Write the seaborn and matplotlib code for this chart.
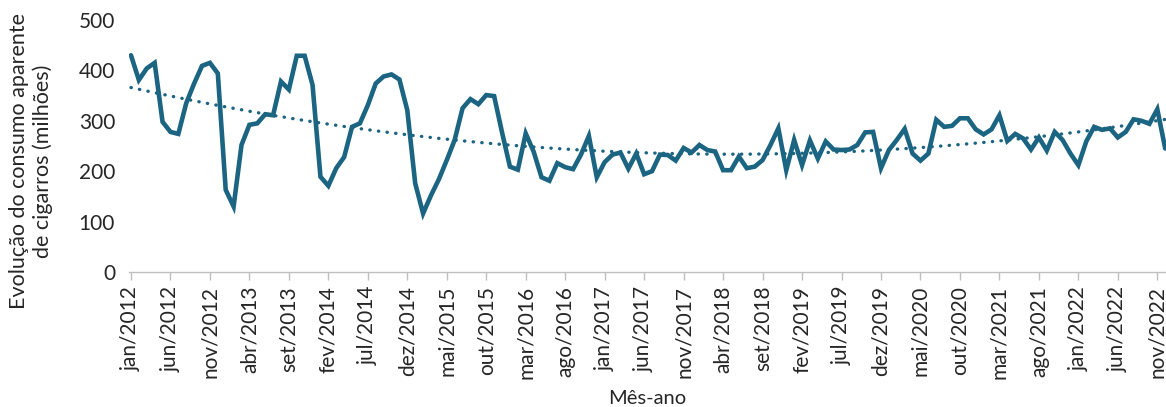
import numpy as np
import pandas as pd
import matplotlib
matplotlib.use("Agg")
import matplotlib.pyplot as plt
import seaborn as sns

# Monthly apparent cigarette consumption (millions), jan/2012 - dez/2022
meses = ["jan", "fev", "mar", "abr", "mai", "jun", "jul", "ago", "set", "out", "nov", "dez"]
anos = list(range(2012, 2023))

valores = [
    430, 381, 404, 415, 298, 278, 274, 335, 374, 409, 415, 394,   # 2012
    163, 130, 252, 292, 295, 313, 311, 378, 362, 429, 429, 371,   # 2013
    189, 171, 206, 228, 288, 295, 331, 374, 388, 392, 382, 321,   # 2014
    176, 116, 152, 184, 222, 262, 325, 343, 333, 351, 349, 277,   # 2015
    209, 203, 275, 239, 188, 181, 216, 208, 204, 233, 270, 188,   # 2016
    218, 233, 237, 205, 235, 194, 200, 233, 232, 221, 246, 237,   # 2017
    252, 242, 239, 202, 202, 229, 206, 209, 222, 252, 285, 202,   # 2018
    262, 212, 261, 225, 259, 243, 242, 243, 252, 277, 278, 206,   # 2019
    242, 262, 284, 235, 221, 235, 302, 288, 290, 305, 305, 283,   # 2020
    273, 283, 311, 260, 274, 265, 243, 267, 241, 278, 262, 235,   # 2021
    212, 259, 288, 282, 285, 267, 278, 303, 300, 294, 323, 245,   # 2022
]

rotulos = [f"{m}/{a}" for a in anos for m in meses]

df = pd.DataFrame({"pos": np.arange(len(valores)), "mes": rotulos, "valor": valores})

COR = "#1B6482"
EIXO = "#BFBFBF"
TEXTO = "#262626"

sns.set_theme(style="white")
plt.rcParams["font.family"] = ["Lato", "DejaVu Sans"]

fig = plt.figure(figsize=(11.66, 4.07), dpi=100)
ax = fig.add_axes([129 / 1166, 135 / 407, 1 - 129 / 1166, (272 - 20) / 407])

sns.lineplot(data=df, x="pos", y="valor", ax=ax, color=COR, linewidth=3.3,
             solid_joinstyle="miter")

# second-order polynomial trend
coef = np.polyfit(df["pos"], df["valor"], 2)
tendencia = np.polyval(coef, df["pos"])
ax.plot(df["pos"], tendencia, color=COR, linewidth=2.4,
        linestyle=(0, (0.1, 2.5)), dash_capstyle="round")

ax.set_xlim(-0.25, 131.1)
ax.set_ylim(0, 500)
ax.set_yticks(range(0, 501, 100))
ax.tick_params(axis="y", length=0, pad=10, labelsize=15, labelcolor=TEXTO)

idx = df["pos"][::5]
ax.set_xticks(idx)
ax.set_xticklabels(df["mes"][::5], rotation=90)
ax.tick_params(axis="x", length=6, width=1, color=EIXO, pad=4, labelsize=15,
               labelcolor=TEXTO, bottom=True)

for lado in ["top", "right", "left"]:
    ax.spines[lado].set_visible(False)
ax.spines["bottom"].set_color(EIXO)
ax.spines["bottom"].set_linewidth(1)

ax.set_xlabel("Mês-ano", fontsize=14.5, color=TEXTO)
ax.xaxis.set_label_coords(0.5, -0.5)
ax.xaxis.label.set_va("center")
ax.set_ylabel("Evolução do consumo aparente\nde cigarros (milhões)", fontsize=15.5,
              color=TEXTO, linespacing=1.2)
ax.yaxis.set_label_coords(-0.073, 0.44)

fig.savefig("out.png", dpi=100)
